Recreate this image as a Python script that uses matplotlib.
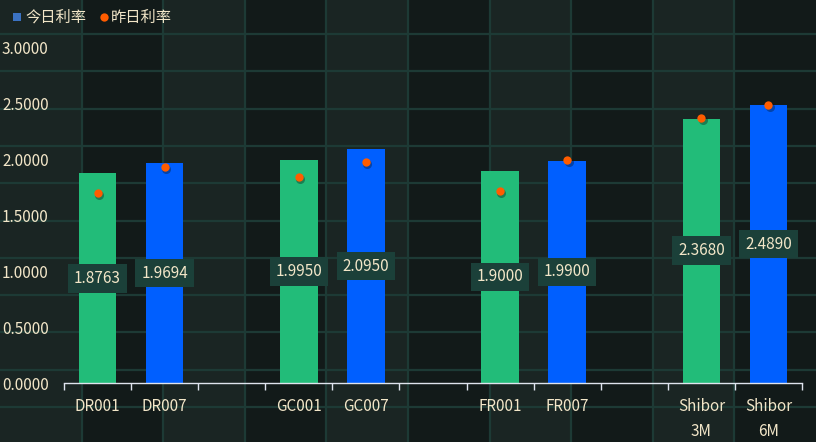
import numpy as np
import matplotlib
matplotlib.use("Agg")
import matplotlib.pyplot as plt
from matplotlib.patches import Rectangle
from matplotlib.lines import Line2D

plt.rcParams['font.family'] = ['Noto Sans CJK SC', 'DejaVu Sans']

# données
categories = ["DR001", "DR007", "", "GC001", "GC007", "", "FR001", "FR007", "", "Shibor\n3M", "Shibor\n6M"]
today_rate = [1.8763, 1.9694, None, 1.9950, 2.0950, None, 1.9000, 1.9900, None, 2.3680, 2.4890]
yest_rate = [1.704, 1.937, None, 1.847, 1.982, None, 1.722, 1.997, None, 2.376, 2.489]
yticks = [0.0, 0.5, 1.0, 1.5, 2.0, 2.5, 3.0]

green = "#22bc79"
blue = "#005fff"
orange = "#ff5c00"
cream = "#f2e6c8"

W, H = 816, 442
fig = plt.figure(figsize=(W / 100, H / 100), dpi=100)
fig.patch.set_facecolor("#121a19")

# fond en bandes + quadrillage
col_w = W / 10
for k in range(10):
    c = "#1a2523" if k % 2 == 0 else "#121a19"
    fig.patches.append(Rectangle((k * col_w / W, 0), col_w / W, 1, transform=fig.transFigure,
                                 facecolor=c, edgecolor="none", zorder=-10))
for k in range(1, 10):
    x = k * col_w / W
    fig.lines.append(Line2D([x, x], [0, 1], transform=fig.transFigure, color="#1d3a35", lw=1.6, zorder=-9))
for k in range(12):
    y = 1 - (34 + 37.3 * k) / H
    fig.lines.append(Line2D([0, 1], [y, y], transform=fig.transFigure, color="#1d3a35", lw=1.6, zorder=-9))

ax = fig.add_axes([64 / W, 1 - 383 / H, (802 - 64) / W, (383 - 48) / H])
ax.set_facecolor("none")

x = np.arange(len(categories))
for i in range(len(categories)):
    if today_rate[i] is None:
        continue
    c = green if i % 3 == 0 else blue
    ax.bar(x[i], today_rate[i], width=0.56, color=c, zorder=2)
    ax.text(x[i], today_rate[i] / 2, "%.4f" % today_rate[i], ha="center", va="center",
            fontsize=11, color=cream, zorder=4,
            bbox=dict(boxstyle="square,pad=0.38", facecolor="#1b4039", edgecolor="none"))
    # ombre + point
    ax.plot(x[i] + 0.02, yest_rate[i] - 0.02, "o", color="#0a0f0e", alpha=0.35, ms=6.5,
            mec="none", zorder=3)
    ax.plot(x[i], yest_rate[i], "o", color=orange, ms=6, mec="none", zorder=3)

ax.set_xlim(-0.5, len(categories) - 0.5)
ax.set_ylim(0, 3.0)
ax.set_yticks(yticks)
ax.set_yticklabels(["%.4f" % v for v in yticks], color=cream, fontsize=11)
ax.tick_params(axis="y", length=0, pad=11)

ax.set_xticks(x)
ax.set_xticklabels(categories, color=cream, fontsize=11, linespacing=1.65)
ax.set_xticks(np.arange(-0.5, len(categories)), minor=True)
ax.tick_params(axis="x", which="major", length=0, pad=10.5)
ax.tick_params(axis="x", which="minor", length=5, color="#dfe4ee", width=1)
for lab in ax.get_xticklabels():
    lab.set_va("top")

for s in ["top", "right", "left"]:
    ax.spines[s].set_visible(False)
ax.spines["bottom"].set_color("#dfe4ee")
ax.spines["bottom"].set_linewidth(1)

# légende
fig.patches.append(Rectangle((13 / W, 1 - 21 / H), 8 / W, 8 / H, transform=fig.transFigure,
                             facecolor="#3b72c2", edgecolor="none"))
fig.text(25 / W, 1 - 17 / H, "今日利率", color=cream, fontsize=11, va="center", ha="left")
fig.lines.append(Line2D([104 / W], [1 - 17 / H], transform=fig.transFigure, marker="o",
                        color=orange, ms=6, mec="none"))
fig.text(111 / W, 1 - 17 / H, "昨日利率", color=cream, fontsize=11, va="center", ha="left")

fig.savefig("out.png", dpi=100, facecolor=fig.get_facecolor())
